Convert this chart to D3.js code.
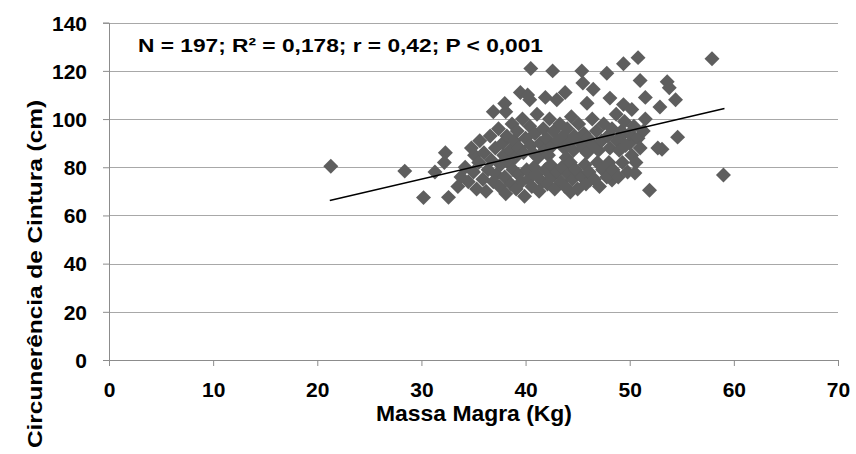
<!DOCTYPE html>
<html>
<head>
<meta charset="utf-8">
<script src="https://cdn.jsdelivr.net/npm/d3@7"></script>
<style>
  body { margin: 0; background: #fff; }
  text { font-family: "Liberation Sans", Arial, sans-serif; font-weight: bold; fill: #000; }
</style>
</head>
<body>
<script>
// massa magra (kg) vs circunferencia de cintura (cm)
const xTicks = [0, 10, 20, 30, 40, 50, 60, 70];
const yTicks = [0, 20, 40, 60, 80, 100, 120, 140];
const statsLabel = "N = 197; R² = 0,178; r = 0,42; P < 0,001";
const xTitle = "Massa Magra (Kg)";
const yTitle = "Circunerência de Cintura (cm)";

// linha de tendencia (inicio e fim)
const trendX = [21.2, 59.1];
const trendY = [66.2, 104.4];

// pontos isolados / bordas da nuvem
const massaOut = [21.3, 28.4, 30.2, 31.3, 32.2, 32.3, 32.6, 35.1, 36.9, 38.0, 38.1, 39.5, 40.2, 40.5, 40.4, 41.9,
  42.6, 43.0, 43.8, 45.4, 45.5, 45.9, 46.5, 47.8, 48.1, 49.4, 49.4, 50.8, 51.0, 51.5, 50.2, 51.5, 52.9, 53.6,
  53.8, 54.4, 57.9, 54.6, 53.1, 50.5, 51.9, 59.0, 52.7, 50.0, 49.1, 46.2, 48.3, 44.3];
const cintOut = [80.4, 78.4, 67.4, 78, 82, 86, 67.5, 85, 103, 106.5, 103, 111, 110, 121, 108, 109,
  120, 108, 111, 120, 115, 106.6, 112.4, 119, 108.7, 123, 106, 125.5, 116, 109, 104, 100, 105, 115.5,
  113, 108, 125, 92.5, 87.5, 77.6, 70.5, 76.8, 88, 90, 92.5, 74.7, 74.7, 69.7];

// nucleo da nuvem
const massaCore = [33.5, 33.8, 34.2, 34.5, 34.8, 35.0, 35.3, 35.5, 35.6, 35.9,
  36.0, 36.2, 36.4, 36.6, 36.7, 36.9, 37.1, 37.2, 37.4, 37.5, 37.6, 37.8, 37.9,
  38.0, 38.1, 38.2, 38.3, 38.5, 38.6, 38.7, 38.8, 38.9, 39.0, 39.1, 39.2, 39.3, 39.4, 39.6, 39.7, 39.8, 39.9,
  40.0, 40.1, 40.3, 40.4, 40.5, 40.6, 40.7, 40.8, 40.9, 41.0, 41.1, 41.2, 41.3, 41.4, 41.6, 41.7, 41.8, 41.9,
  42.0, 42.1, 42.2, 42.3, 42.4, 42.5, 42.6, 42.7, 42.8, 43.0, 43.1, 43.3, 43.4, 43.5, 43.6, 43.7, 43.8, 43.9,
  44.0, 44.1, 44.2, 44.3, 44.4, 44.5, 44.6, 44.7, 44.8, 45.0, 45.1, 45.3, 45.4, 45.5, 45.6, 45.7, 45.8, 45.9,
  46.0, 46.1, 46.4, 46.5, 46.6, 46.8, 46.9, 47.0, 47.1, 47.3, 47.4, 47.5, 47.8, 47.9,
  48.0, 48.1, 48.3, 48.4, 48.7, 48.8, 48.9, 49.0, 49.2, 49.3, 49.5, 49.6, 49.8,
  50.0, 50.2, 50.4, 50.6, 50.8, 51.0, 51.3];
const cintCore = [72, 76, 80, 74, 88, 78, 71, 82, 91, 75,
  86, 70, 79, 93, 83, 74, 88, 77, 96, 72, 81, 90, 85,
  76, 69, 93, 82, 87, 73, 98, 79, 91, 84, 71, 95, 77, 88, 74, 100, 86, 68,
  92, 79, 75, 97, 89, 72, 86, 80, 94, 77, 102, 84, 70, 90, 74, 96, 87, 79,
  92, 73, 85, 100, 81, 76, 89, 95, 71, 78, 91, 98, 74, 80, 93, 88, 72, 84,
  96, 77, 90, 82, 101, 75, 87, 93, 79, 71, 98, 90, 76, 88, 94, 81, 73, 86,
  92, 78, 100, 89, 75, 95, 82, 87, 72, 91, 79, 98, 76, 93,
  82, 88, 96, 79, 102, 91, 76, 87, 95, 82, 99, 89, 78,
  94, 85, 97, 82, 92, 88, 95];

const points = massaOut.map((m, i) => ({ x: m, y: cintOut[i] }))
  .concat(massaCore.map((m, i) => ({ x: m, y: cintCore[i] })));

const width = 856;
const height = 454;

const svg = d3.select("body")
  .append("svg")
  .attr("width", width)
  .attr("height", height);

const x = d3.scaleLinear().domain([0, 70]).range([109, 838]);
const y = d3.scaleLinear().domain([0, 140]).range([360, 22.7]);

// linhas de grade
svg.append("g")
  .selectAll("line")
  .data(yTicks.filter(d => d > 0))
  .enter().append("line")
  .attr("x1", x(0))
  .attr("x2", x(70))
  .attr("y1", d => Math.round(y(d)) + 0.5)
  .attr("y2", d => Math.round(y(d)) + 0.5)
  .attr("stroke", "#a8a8a8")
  .attr("stroke-width", 1.2);

// eixo y
const yAxis = svg.append("g")
  .attr("transform", `translate(${x(0)},0)`)
  .call(d3.axisLeft(y).tickValues(yTicks).tickSize(6).tickPadding(16));
yAxis.select(".domain").attr("stroke", "#8c8c8c");
yAxis.selectAll(".tick line").attr("stroke", "#8c8c8c");
yAxis.selectAll(".tick text")
  .attr("font-size", 21)
  .attr("font-family", "Liberation Sans, Arial, sans-serif")
  .attr("font-weight", "bold")
  .attr("fill", "#000")
  .attr("dy", "0.35em");

// eixo x
const xAxis = svg.append("g")
  .attr("transform", `translate(0,${y(0)})`)
  .call(d3.axisBottom(x).tickValues(xTicks).tickSize(6).tickPadding(16));
xAxis.select(".domain").attr("stroke", "#8c8c8c");
xAxis.selectAll(".tick line").attr("stroke", "#8c8c8c");
xAxis.selectAll(".tick text")
  .attr("font-size", 21)
  .attr("font-family", "Liberation Sans, Arial, sans-serif")
  .attr("font-weight", "bold")
  .attr("fill", "#000");

// pontos
svg.append("g")
  .selectAll("path")
  .data(points)
  .enter().append("path")
  .attr("d", d3.symbol(d3.symbolSquare, 112))
  .attr("transform", d => `translate(${x(d.x)},${y(d.y)}) rotate(45)`)
  .attr("fill", "#5e5e5e");

// tendencia
svg.append("line")
  .attr("x1", x(trendX[0]))
  .attr("y1", y(trendY[0]))
  .attr("x2", x(trendX[1]))
  .attr("y2", y(trendY[1]))
  .attr("stroke", "#000")
  .attr("stroke-width", 1.5);

// estatisticas
svg.append("text")
  .attr("x", 138)
  .attr("y", 52)
  .attr("font-size", 19)
  .attr("textLength", 405)
  .attr("lengthAdjust", "spacingAndGlyphs")
  .text(statsLabel);

// titulos
svg.append("text")
  .attr("x", 474)
  .attr("y", 421)
  .attr("text-anchor", "middle")
  .attr("font-size", 22)
  .attr("textLength", 196)
  .attr("lengthAdjust", "spacingAndGlyphs")
  .text(xTitle);

svg.append("text")
  .attr("transform", "translate(42,274) rotate(-90)")
  .attr("text-anchor", "middle")
  .attr("font-size", 21)
  .attr("textLength", 348)
  .attr("lengthAdjust", "spacingAndGlyphs")
  .text(yTitle);
</script>
</body>
</html>
